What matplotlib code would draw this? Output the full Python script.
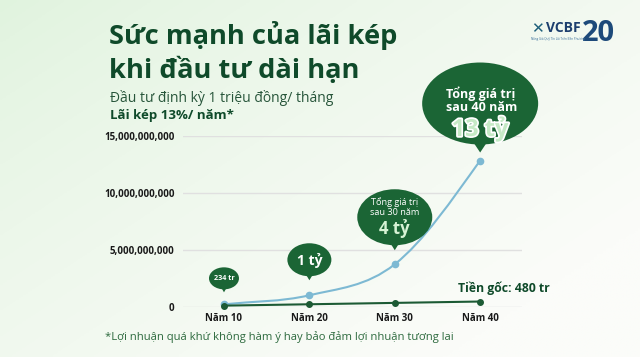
import numpy as np
import matplotlib
matplotlib.use("Agg")
import matplotlib.pyplot as plt
from matplotlib.patches import Ellipse, Polygon, PathPatch
from matplotlib.path import Path
import matplotlib.patheffects as pe

plt.rcParams['font.family'] = ['Open Sans', 'DejaVu Sans']

# ---------------- data ----------------
years = [10, 20, 30, 40]
x_labels = ["Năm 10", "Năm 20", "Năm 30", "Năm 40"]
total_value = [0.234e9, 1.03e9, 3.75e9, 12.85e9]
principal = [0.12e9, 0.24e9, 0.36e9, 0.48e9]
y_ticks = [0, 5e9, 10e9, 15e9]
y_tick_labels = ["0", "5,000,000,000", "10,000,000,000", "15,000,000,000"]
bubble_texts = ["234 tr", "1 tỷ", "4 tỷ", "13 tỷ"]

W, H = 640, 357
DARK = "#0f4a2a"
BUB = "#1b6535"
BLUE = "#7db9d3"
LINE_G = "#1c5a34"

fig = plt.figure(figsize=(W / 100, H / 100), dpi=100)

# background gradient
bg = fig.add_axes([0, 0, 1, 1], zorder=-10)
gx = np.linspace(0, 1, 200)
gy = np.linspace(0, 1, 120)
GX, GY = np.meshgrid(gx, gy)
t = np.clip(0.65 * GX + 0.55 * GY, 0, 1)  # 0 at top-left
c0 = np.array([0xe0, 0xf3, 0xde]) / 255
c1 = np.array([0xfb, 0xfc, 0xf9]) / 255
t = t ** 0.8
img = c0[None, None, :] * (1 - t[..., None]) + c1[None, None, :] * t[..., None]
bg.imshow(img, aspect="auto", extent=[0, 1, 0, 1], origin="upper")
bg.set_axis_off()

def fx(px):
    return px / W

def fy(py):
    return 1 - py / H

# main axes
left, right, top, bottom = 183, 522, 136, 307
ax = fig.add_axes([fx(left), fy(bottom), (right - left) / W, (bottom - top) / H])
ax.patch.set_alpha(0)
ax.set_xlim(5.2, 44.9)
ax.set_ylim(0, 15e9)
for s in ax.spines.values():
    s.set_visible(False)
ax.set_yticks(y_ticks)
ax.set_yticklabels(y_tick_labels, fontsize=7, fontweight="bold", color="#1a1a1a")
ax.set_xticks(years)
ax.set_xticklabels(x_labels, fontsize=7, fontweight="bold", color="#1a1a1a")
ax.tick_params(length=0, pad=6)
ax.tick_params(axis="x", pad=4)
ax.grid(axis="y", color="#e0e0e0", linewidth=1.0)
ax.set_axisbelow(True)

# smooth curve through total values (cubic Hermite bezier)
xs = np.array(years, float)
ys = np.array(total_value, float)
n = len(xs)
m = np.zeros(n)
m[0] = (ys[1] - ys[0]) / (xs[1] - xs[0])
m[-1] = (ys[-1] - ys[-2]) / (xs[-1] - xs[-2]) * 1.15
for i in range(1, n - 1):
    m[i] = (ys[i + 1] - ys[i - 1]) / (xs[i + 1] - xs[i - 1])
verts = [(xs[0], ys[0])]
codes = [Path.MOVETO]
for i in range(n - 1):
    h = xs[i + 1] - xs[i]
    verts += [(xs[i] + h / 3, ys[i] + m[i] * h / 3),
              (xs[i + 1] - h / 3, ys[i + 1] - m[i + 1] * h / 3),
              (xs[i + 1], ys[i + 1])]
    codes += [Path.CURVE4] * 3
ax.add_patch(PathPatch(Path(verts, codes), fill=False, edgecolor=BLUE, lw=1.5, zorder=3, clip_on=False))
ax.plot(years, total_value, "o", color=BLUE, ms=4.5, zorder=4, clip_on=False)
ax.plot(years, principal, "-o", color=LINE_G, lw=1.5, ms=4, zorder=5, clip_on=False)

fig.canvas.draw()

def data_px(x, y):
    dx, dy = ax.transData.transform((x, y))
    return dx, H - dy

# bubbles: (width, height, gap above point, tip length)
bub_spec = [
    (30, 22, 12, 5),
    (44, 33, 15, 6),
    (75, 56, 14, 7),
    (116, 82, 8, 10),
]

for i, (bw, bh, gap, tl) in enumerate(bub_spec):
    px, py = data_px(years[i], total_value[i])
    tip_y = py - gap
    cy = tip_y - tl - bh / 2 + 2
    cx = px
    e = Ellipse((fx(cx), fy(cy)), bw / W, bh / H, transform=fig.transFigure,
                facecolor=BUB, edgecolor="none", zorder=20)
    fig.add_artist(e)
    tri = Polygon([(fx(cx - tl * 0.8), fy(tip_y - tl - 2)), (fx(cx + tl * 0.8), fy(tip_y - tl - 2)),
                   (fx(cx), fy(tip_y))], closed=True, transform=fig.transFigure,
                  facecolor=BUB, edgecolor="none", zorder=20)
    fig.add_artist(tri)
    if i == 0:
        fig.text(fx(cx), fy(cy), bubble_texts[i], ha="center", va="center", color="white",
                 fontsize=5.2, fontweight="bold", zorder=21)
    elif i == 1:
        fig.text(fx(cx), fy(cy + 1), bubble_texts[i], ha="center", va="center", color="white",
                 fontsize=10, fontweight="bold", zorder=21)
    elif i == 2:
        fig.text(fx(cx), fy(cy - 15), "Tổng giá trị", ha="center", va="center", color="white",
                 fontsize=6.6, zorder=21)
        fig.text(fx(cx), fy(cy - 5), "sau 30 năm", ha="center", va="center", color="white",
                 fontsize=6.6, zorder=21)
        fig.text(fx(cx), fy(cy + 11), bubble_texts[i], ha="center", va="center", color="#d7f3d5",
                 fontsize=12, fontweight="bold", zorder=21)
    else:
        fig.text(fx(cx), fy(cy - 10), "Tổng giá trị", ha="center", va="center", color="white",
                 fontsize=9, fontweight="bold", zorder=21)
        fig.text(fx(cx + 1), fy(cy + 4), "sau 40 năm", ha="center", va="center", color="white",
                 fontsize=9, fontweight="bold", zorder=21)
        fig.text(fx(cx), fy(cy + 26), bubble_texts[i], ha="center", va="center", color="#c6eac6",
                 fontsize=17, fontweight="bold", zorder=21,
                 path_effects=[pe.withStroke(linewidth=2.5, foreground="white")])

# principal label
fig.text(fx(458), fy(288), "Tiền gốc: 480 tr", ha="left", va="center", color=DARK,
         fontsize=8.8, fontweight="bold")

# titles
fig.text(fx(109), fy(44), "Sức mạnh của lãi kép", ha="left", va="baseline", color=DARK,
         fontsize=19.6, fontweight="bold")
fig.text(fx(109), fy(78), "khi đầu tư dài hạn", ha="left", va="baseline", color=DARK,
         fontsize=19.6, fontweight="bold")
fig.text(fx(110), fy(102), "Đầu tư định kỳ 1 triệu đồng/ tháng", ha="left", va="baseline",
         color="#27553a", fontsize=10)
fig.text(fx(110), fy(119), "Lãi kép 13%/ năm*", ha="left", va="baseline",
         color=DARK, fontsize=9.5, fontweight="bold")

# footnote
fig.text(fx(105), fy(340), "*Lợi nhuận quá khứ không hàm ý hay bảo đảm lợi nhuận tương lai",
         ha="left", va="baseline", color="#2d6a3e", fontsize=8.1)

# logo
fig.text(fx(531), fy(33), "✕", ha="left", va="baseline", color="#1d5f7a",
         fontsize=11, fontweight="bold", family=["DejaVu Sans"])
fig.text(fx(546), fy(32), "VCBF", ha="left", va="baseline", color="#1d3f6e",
         fontsize=10, fontweight="bold")
fig.text(fx(582), fy(41), "20", ha="left", va="baseline", color="#1d4a7a",
         fontsize=21, fontweight="bold")
fig.text(fx(531), fy(40), "Nâng Giá Quỹ Tín Lãi Trên Bền Phương", ha="left", va="baseline",
         color="#3a6f9a", fontsize=2.2)

fig.savefig("out.png", dpi=100)
